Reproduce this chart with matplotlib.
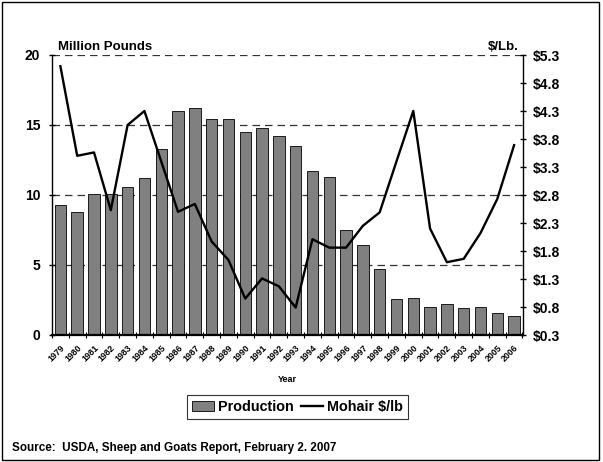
import matplotlib
matplotlib.use("Agg")
import matplotlib.pyplot as plt
from matplotlib.patches import Patch, Rectangle
from matplotlib.lines import Line2D
from matplotlib.ticker import FixedLocator, FuncFormatter
import numpy as np

plt.rcParams['font.family'] = ['Liberation Sans', 'DejaVu Sans']
plt.rcParams['font.weight'] = 'bold'

years = [str(y) for y in range(1979, 2007)]
production = [9.3, 8.8, 10.1, 10.1, 10.6, 11.2, 13.3, 16.0, 16.2, 15.4, 15.4, 14.5, 14.8, 14.2,
              13.5, 11.7, 11.3, 7.5, 6.4, 4.7, 2.55, 2.65, 2.0, 2.2, 1.93, 1.98, 1.57, 1.33]
mohair_price = [5.10, 3.50, 3.56, 2.53, 4.05, 4.30, 3.40, 2.50, 2.64, 1.97, 1.64, 0.95, 1.31, 1.17,
                0.79, 2.01, 1.86, 1.86, 2.25, 2.49, 3.40, 4.30, 2.20, 1.60, 1.66, 2.12, 2.73, 3.69]
left_ticks = [0, 5, 10, 15, 20]
right_ticks = [0.3, 0.8, 1.3, 1.8, 2.3, 2.8, 3.3, 3.8, 4.3, 4.8, 5.3]

fig = plt.figure(figsize=(6.03, 4.62), dpi=100)
ax = fig.add_axes([52/603, 1-335/462, (522.5-52)/603, (335-55)/462])
x = np.arange(len(years))

ax.bar(x, production, width=0.68, color='#808080', edgecolor='#000000', linewidth=0.6, zorder=2)
ax.set_xlim(-0.5, len(years)-0.5)
ax.set_ylim(0, 20)
ax.set_axisbelow(True)
ax.yaxis.set_major_locator(FixedLocator(left_ticks))
ax.grid(axis='y', color='#333333', linestyle=(0, (6, 4)), linewidth=0.9)
ax.grid(axis='x', visible=False)
for s in ['top', 'right']:
    ax.spines[s].set_visible(False)
ax.spines['left'].set_linewidth(1.0)
ax.spines['bottom'].set_linewidth(1.6)
ax.tick_params(axis='y', direction='inout', length=5, width=1, labelsize=10, pad=6)
for lbl in ax.get_yticklabels():
    lbl.set_fontweight('bold')

ax.set_xticks(x)
ax.set_xticklabels(years, rotation=45, ha='right', va='top', fontsize=6.3, fontweight='bold',
                   rotation_mode='anchor')
ax.tick_params(axis='x', which='major', length=0, pad=6)
ax.set_xticks(np.arange(-0.5, len(years)), minor=True)
ax.tick_params(axis='x', which='minor', direction='inout', length=5, width=0.8)
ax.set_xlabel('Year', fontsize=6.5, fontweight='bold', labelpad=8)

ax2 = ax.twinx()
ax2.plot(x, mohair_price, color='black', linewidth=1.7, zorder=3)
ax2.set_ylim(0.3, 5.3)
ax2.yaxis.set_major_locator(FixedLocator(right_ticks))
ax2.yaxis.set_major_formatter(FuncFormatter(lambda v, p: f"${v:.1f}"))
for s in ['top', 'left', 'bottom']:
    ax2.spines[s].set_visible(False)
ax2.spines['right'].set_linewidth(1.0)
ax2.tick_params(axis='y', direction='inout', length=5, width=1, labelsize=10, pad=5)
for lbl in ax2.get_yticklabels():
    lbl.set_fontweight('bold')

fig.text(58/603, 1-47/462, 'Million Pounds', fontsize=9.5, fontweight='bold', va='center', ha='left')
fig.text(519/603, 1-47/462, '$/Lb.', fontsize=9.5, fontweight='bold', va='center', ha='right')

handles = [Patch(facecolor='#808080', edgecolor='black', linewidth=0.6),
           Line2D([0], [0], color='black', linewidth=1.7)]
leg = fig.legend(handles, ['Production', 'Mohair $/lb'], loc='center',
                 bbox_to_anchor=(297.5/603, 1-407/462), ncol=2, frameon=True, fancybox=False,
                 edgecolor='black', handlelength=1.5, handletextpad=0.3,
                 columnspacing=0.5, borderpad=0.35, borderaxespad=0,
                 prop={'weight': 'bold', 'size': 10.4})
leg.get_frame().set_linewidth(0.8)

fig.text(12/603, 1-448/462, 'Source:  USDA, Sheep and Goats Report, February 2. 2007',
         fontsize=8.4, fontweight='bold', va='center', ha='left')

fig.patches.append(Rectangle((2/603, 2/462), 597/603, 458/462, transform=fig.transFigure,
                             fill=False, edgecolor='black', linewidth=1.0))

fig.savefig('out.png', dpi=100)
